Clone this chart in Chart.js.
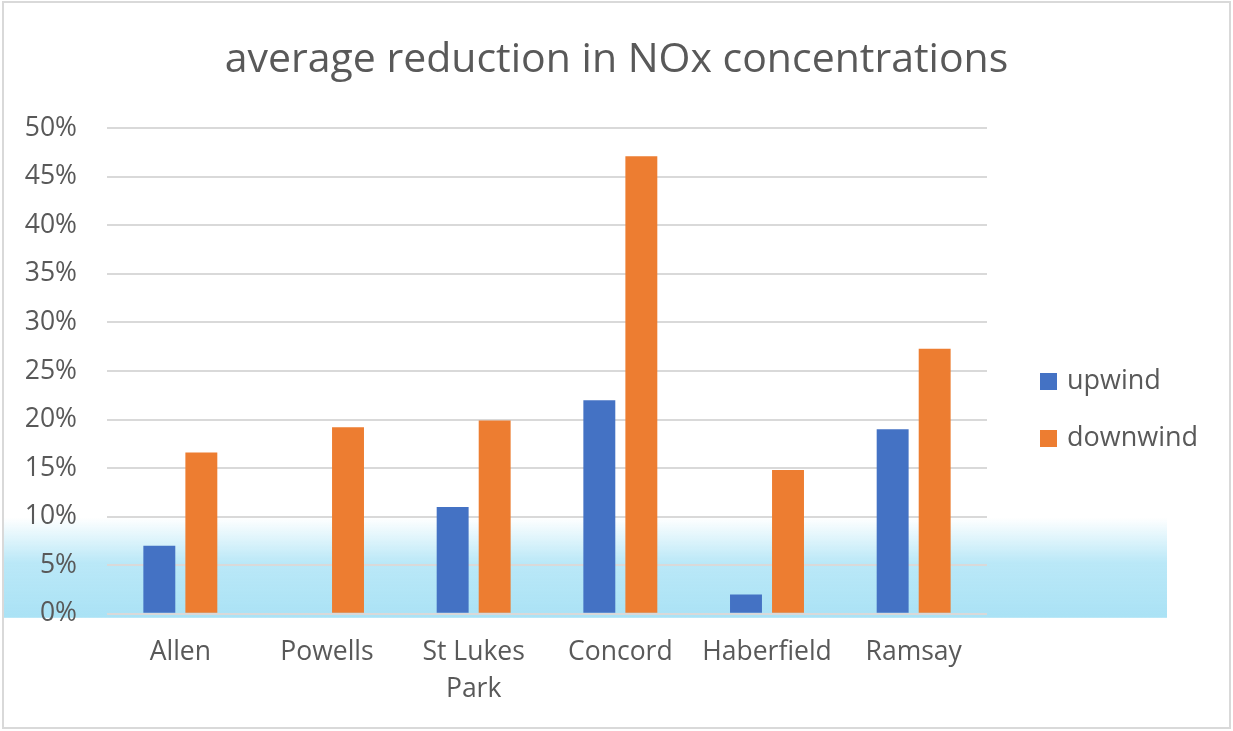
<!DOCTYPE html>
<html>
<head>
<meta charset="utf-8">
<script src="https://cdn.jsdelivr.net/npm/chart.js@4"></script>
<style>
  html, body { margin: 0; padding: 0; background: #fff; }
  #wrap { width: 1233px; height: 731px; }
</style>
</head>
<body>
<div id="wrap"><canvas id="noxChart" width="1233" height="731"></canvas></div>
<script>
// datos del gráfico
const sites = ['Allen', 'Powells', ['St Lukes', 'Park'], 'Concord', 'Haberfield', 'Ramsay'];
const upwind = [7.0, 0, 11.0, 22.0, 2.0, 19.0];
const downwind = [16.6, 19.2, 19.9, 47.1, 14.8, 27.3];
const yTicks = [0, 5, 10, 15, 20, 25, 30, 35, 40, 45, 50];

const textColor = '#595959';
const fontFamily = '"Open Sans", "DejaVu Sans", sans-serif';

// banda azul de fondo, leyenda y borde
const decor = {
    id: 'decor',
    beforeDraw(chart) {
        const ctx = chart.ctx;
        const y = chart.scales.y;
        const top = y.getPixelForValue(10) + 1;
        const bottom = y.getPixelForValue(0) + 4;
        const grad = ctx.createLinearGradient(0, top, 0, bottom);
        grad.addColorStop(0, 'rgba(174,228,246,0)');
        grad.addColorStop(0.45, 'rgba(174,228,246,0.85)');
        grad.addColorStop(1, 'rgba(170,226,245,1)');
        ctx.save();
        ctx.fillStyle = grad;
        ctx.fillRect(3, top, 1164, bottom - top);
        ctx.restore();
    },
    afterDraw(chart) {
        const ctx = chart.ctx;
        ctx.save();
        // leyenda
        chart.data.datasets.forEach((ds, i) => {
            const cy = 381 + i * 57;
            ctx.fillStyle = ds.backgroundColor;
            ctx.fillRect(1040, cy - 8, 17, 17);
            ctx.fillStyle = textColor;
            ctx.font = '27px ' + fontFamily;
            ctx.textBaseline = 'middle';
            ctx.textAlign = 'left';
            ctx.fillText(ds.label, 1067, cy);
        });
        // borde
        ctx.strokeStyle = '#d9d9d9';
        ctx.lineWidth = 2;
        ctx.strokeRect(3, 2, 1227, 726);
        ctx.restore();
    }
};

const ctx = document.getElementById('noxChart').getContext('2d');
new Chart(ctx, {
    type: 'bar',
    data: {
        labels: sites,
        datasets: [
            {
                label: 'upwind',
                data: upwind,
                backgroundColor: '#4472C4',
                categoryPercentage: 0.573,
                barPercentage: 0.76
            },
            {
                label: 'downwind',
                data: downwind,
                backgroundColor: '#ED7D31',
                categoryPercentage: 0.573,
                barPercentage: 0.76
            }
        ]
    },
    options: {
        responsive: false,
        animation: false,
        layout: { padding: { left: 0, right: 0, top: 0, bottom: 3 } },
        plugins: {
            legend: { display: false },
            tooltip: { enabled: false },
            title: {
                display: true,
                text: 'average reduction in NOx concentrations',
                color: textColor,
                font: { family: fontFamily, size: 41, weight: 'normal', lineHeight: 1.2 },
                padding: { top: 36, bottom: 43 }
            }
        },
        scales: {
            x: {
                grid: { display: false, drawTicks: false },
                border: { display: false },
                ticks: {
                    color: textColor,
                    font: { family: fontFamily, size: 26.5, lineHeight: 1.4 },
                    padding: 20,
                    maxRotation: 0,
                    autoSkip: false
                }
            },
            y: {
                min: 0,
                max: 50,
                afterBuildTicks: (scale) => {
                    scale.ticks = yTicks.map(v => ({ value: v }));
                },
                afterFit: (scale) => { scale.width = 107; },
                grid: { color: '#d9d9d9', lineWidth: 2, drawTicks: false },
                border: { display: false },
                ticks: {
                    color: textColor,
                    font: { family: fontFamily, size: 26.5 },
                    padding: 30,
                    callback: (v) => v + '%'
                }
            },
            yR: {
                position: 'right',
                display: true,
                min: 0,
                max: 50,
                afterFit: (scale) => { scale.width = 246; },
                grid: { display: false, drawTicks: false },
                border: { display: false },
                ticks: { display: false }
            }
        }
    },
    plugins: [decor]
});
</script>
</body>
</html>
